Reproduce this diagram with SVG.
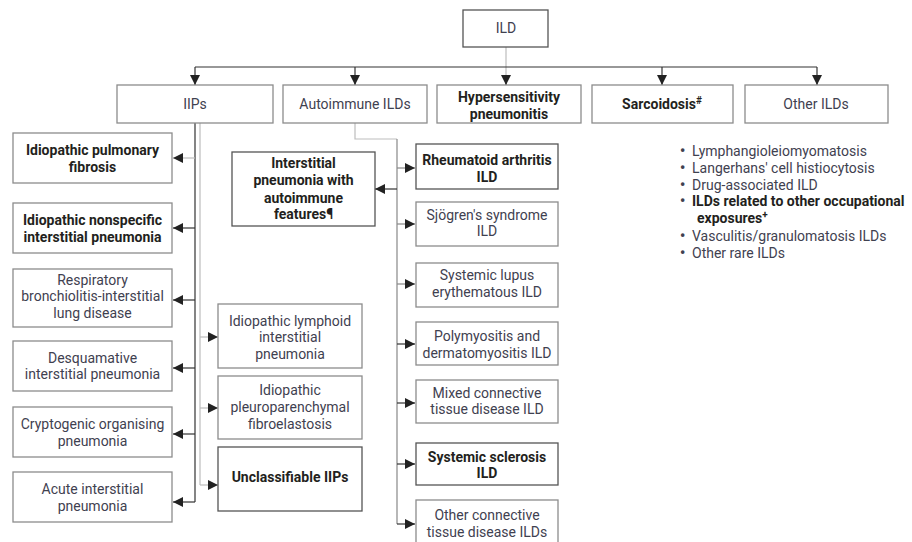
<svg xmlns="http://www.w3.org/2000/svg" width="912" height="542" viewBox="0 0 912 542">
<defs>
<marker id="ah" markerWidth="10" markerHeight="10" viewBox="0 0 10 10" refX="10" refY="5" orient="auto" markerUnits="userSpaceOnUse">
<path d="M0,0 L10,5 L0,10 z" fill="#222"/>
</marker>
<style>
.b{fill:#fff;stroke:#8c8c8c;stroke-width:1.3}
.bd{fill:#fff;stroke:#555;stroke-width:1.3}
text{font-family:Roboto,"Liberation Sans",sans-serif;font-size:14px;fill:#3f4150;text-anchor:middle}
.t{font-weight:bold;fill:#231f20}
.l{text-anchor:start}
.s{font-size:10px}
.bu{font-weight:900;fill:#3f4150}
.dk{fill:none;stroke:#333;stroke-width:1.2}
.gr{fill:none;stroke:#bdbdbd;stroke-width:1.2}
.md{fill:none;stroke:#888;stroke-width:1.2}
</style>
</defs>
<rect width="912" height="542" fill="#fff"/>
<g id="connectors">
<path class="gr" d="M506,47 V77"/>
<path class="dk" d="M195,67 H817"/>
<path class="dk" d="M195,67 V85" marker-end="url(#ah)"/>
<path class="dk" d="M355,67 V85" marker-end="url(#ah)"/>
<path class="dk" d="M506,76 V85" marker-end="url(#ah)"/>
<path class="dk" d="M662,67 V85" marker-end="url(#ah)"/>
<path class="dk" d="M817,67 V85" marker-end="url(#ah)"/>
<path class="dk" d="M195,123 V502"/>
<path class="gr" d="M195,158 H173" marker-end="url(#ah)"/>
<path class="dk" d="M195,228 H173" marker-end="url(#ah)"/>
<path class="dk" d="M195,300 H173" marker-end="url(#ah)"/>
<path class="dk" d="M195,368 H173" marker-end="url(#ah)"/>
<path class="dk" d="M195,434 H173" marker-end="url(#ah)"/>
<path class="dk" d="M195,502 H173" marker-end="url(#ah)"/>
<path class="gr" d="M200,123 V485"/>
<path class="gr" d="M200,337 H218" marker-end="url(#ah)"/>
<path class="gr" d="M200,408 H218" marker-end="url(#ah)"/>
<path class="gr" d="M200,485 H218" marker-end="url(#ah)"/>
<path class="gr" d="M355,123 V139 H397"/>
<path class="md" d="M397,139 V524"/>
<path class="dk" d="M397,189 H375" marker-end="url(#ah)"/>
<path class="md" d="M397,168 H415" marker-end="url(#ah)"/>
<path class="md" d="M397,224 H415" marker-end="url(#ah)"/>
<path class="md" d="M397,284 H415" marker-end="url(#ah)"/>
<path class="dk" d="M397,344 H415" marker-end="url(#ah)"/>
<path class="dk" d="M397,403 H415" marker-end="url(#ah)"/>
<path class="dk" d="M397,464 H415" marker-end="url(#ah)"/>
<path class="dk" d="M397,524 H415" marker-end="url(#ah)"/>
</g>
<g id="ild"><rect class="bd" x="463" y="10" width="85" height="37"/><text x="506" y="33">ILD</text></g>
<g id="iips"><rect class="b" x="117" y="85" width="156" height="38"/><text x="195" y="109">IIPs</text></g>
<g id="autoimmune"><rect class="b" x="283" y="85" width="144" height="38"/><text x="355" y="109">Autoimmune ILDs</text></g>
<g id="hp"><rect class="b" x="437" y="85" width="144" height="38"/><text class="t" x="509" y="102">Hypersensitivity</text><text class="t" x="509" y="119">pneumonitis</text></g>
<g id="sarcoidosis"><rect class="b" x="592" y="85" width="141" height="38"/><text class="t" x="662" y="109">Sarcoidosis<tspan class="s" dy="-5">#</tspan></text></g>
<g id="other-ilds"><rect class="b" x="745" y="85" width="143" height="38"/><text x="816" y="109">Other ILDs</text></g>
<g id="other-list">
<text class="l" x="680" y="156"><tspan class="bu">•</tspan><tspan x="692">Lymphangioleiomyomatosis</tspan></text>
<text class="l" x="680" y="173"><tspan class="bu">•</tspan><tspan x="692">Langerhans' cell histiocytosis</tspan></text>
<text class="l" x="680" y="190"><tspan class="bu">•</tspan><tspan x="692">Drug-associated ILD</tspan></text>
<text class="l t" x="680" y="206"><tspan class="bu">•</tspan><tspan x="692">ILDs related to other occupational</tspan></text>
<text class="l t" x="697" y="223">exposures<tspan class="s" dy="-5">+</tspan></text>
<text class="l" x="680" y="241"><tspan class="bu">•</tspan><tspan x="692">Vasculitis/granulomatosis ILDs</tspan></text>
<text class="l" x="680" y="258"><tspan class="bu">•</tspan><tspan x="692">Other rare ILDs</tspan></text>
</g>
<g id="ipf"><rect class="b" x="13" y="133" width="159" height="50"/><text class="t" x="92.5" y="155">Idiopathic pulmonary</text><text class="t" x="92.5" y="172">fibrosis</text></g>
<g id="insip"><rect class="b" x="13" y="203" width="159" height="50"/><text class="t" x="92.5" y="225">Idiopathic nonspecific</text><text class="t" x="92.5" y="242">interstitial pneumonia</text></g>
<g id="rbild"><rect class="b" x="13" y="269" width="159" height="58"/><text x="92.5" y="285">Respiratory</text><text x="92.5" y="301">bronchiolitis-interstitial</text><text x="92.5" y="318">lung disease</text></g>
<g id="dip"><rect class="b" x="13" y="341" width="159" height="50"/><text x="92.5" y="363">Desquamative</text><text x="92.5" y="379">interstitial pneumonia</text></g>
<g id="cop"><rect class="b" x="13" y="407" width="159" height="50"/><text x="92.5" y="429">Cryptogenic organising</text><text x="92.5" y="446">pneumonia</text></g>
<g id="aip"><rect class="b" x="13" y="472" width="159" height="50"/><text x="92.5" y="494">Acute interstitial</text><text x="92.5" y="511">pneumonia</text></g>
<g id="ilip"><rect class="b" x="218" y="304" width="144" height="64"/><text x="290" y="326">Idiopathic lymphoid</text><text x="290" y="342">interstitial</text><text x="290" y="359">pneumonia</text></g>
<g id="ippfe"><rect class="b" x="218" y="376" width="144" height="63"/><text x="290" y="395">Idiopathic</text><text x="290" y="412">pleuroparenchymal</text><text x="290" y="429">fibroelastosis</text></g>
<g id="unclassifiable"><rect class="bd" x="218" y="447" width="144" height="64"/><text class="t" x="290" y="482">Unclassifiable IIPs</text></g>
<g id="ipaf"><rect class="bd" x="232" y="152" width="143" height="74"/><text class="t" x="303.5" y="168">Interstitial</text><text class="t" x="303.5" y="185">pneumonia with</text><text class="t" x="303.5" y="203">autoimmune</text><text class="t" x="303.5" y="219">features¶</text></g>
<g id="ra"><rect class="bd" x="416" y="144" width="142" height="45"/><text class="t" x="487" y="165">Rheumatoid arthritis</text><text class="t" x="487" y="182">ILD</text></g>
<g id="sjogren"><rect class="b" x="416" y="202" width="142" height="44"/><text x="487" y="220">Sjögren's syndrome</text><text x="487" y="236">ILD</text></g>
<g id="sle"><rect class="b" x="416" y="263" width="142" height="44"/><text x="487" y="280">Systemic lupus</text><text x="487" y="297">erythematous ILD</text></g>
<g id="pm"><rect class="b" x="416" y="322" width="142" height="43"/><text x="487" y="341">Polymyositis and</text><text x="487" y="358">dermatomyositis ILD</text></g>
<g id="mctd"><rect class="b" x="416" y="380" width="142" height="43"/><text x="487" y="398">Mixed connective</text><text x="487" y="414">tissue disease ILD</text></g>
<g id="ssc"><rect class="bd" x="416" y="443" width="142" height="42"/><text class="t" x="487" y="462">Systemic sclerosis</text><text class="t" x="487" y="478">ILD</text></g>
<g id="other-ctd"><rect class="b" x="416" y="500" width="142" height="46"/><text x="487" y="520">Other connective</text><text x="487" y="537">tissue disease ILDs</text></g>
</svg>
